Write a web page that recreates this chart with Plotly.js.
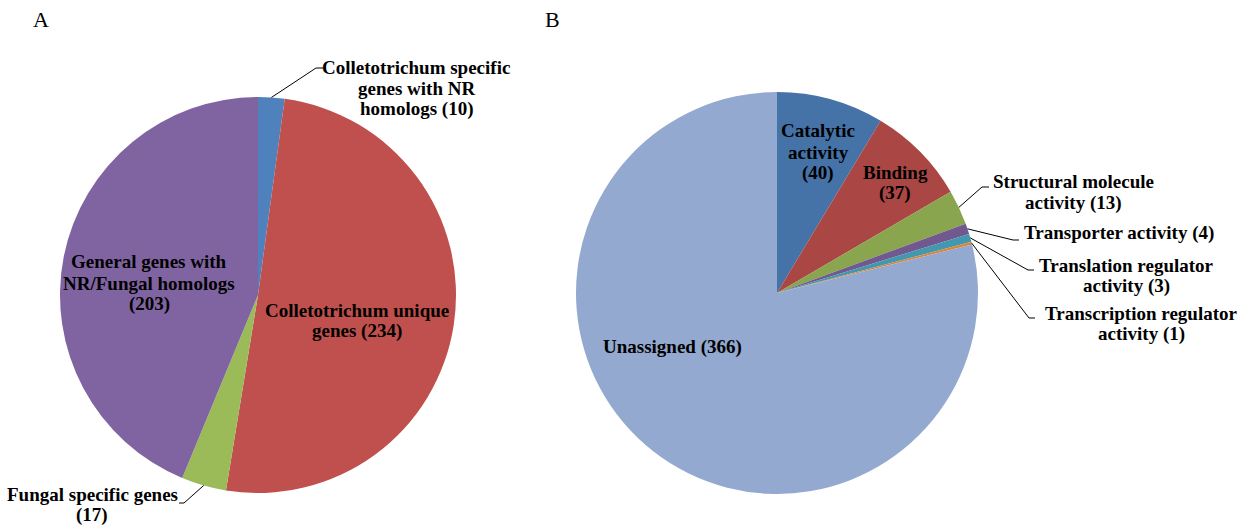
<!DOCTYPE html>
<html>
<head>
<meta charset="utf-8">
<script src="https://cdn.plot.ly/plotly-3.0.1.min.js"></script>
<style>html,body{margin:0;padding:0;background:#fff;}#chart{width:1252px;height:526px;}</style>
</head>
<body>
<div id="chart"></div>
<script>
// ---- Data ----
const labelsA = ["Colletotrichum specific genes with NR homologs", "Colletotrichum unique genes", "Fungal specific genes", "General genes with NR/Fungal homologs"];
const valuesA = [10, 234, 17, 203];
const colorsA = ["#4F81BD", "#C0504D", "#9BBB59", "#8064A2"];
const textA = [["Colletotrichum specific", "genes with NR", "homologs (10)"], ["Colletotrichum unique", "genes (234)"], ["Fungal specific genes", "(17)"], ["General genes with", "NR/Fungal homologs", "(203)"]];

const labelsB = ["Catalytic activity", "Binding", "Structural molecule activity", "Transporter activity", "Translation regulator activity", "Transcription regulator activity", "Unassigned"];
const valuesB = [40, 37, 13, 4, 3, 1, 366];
const colorsB = ["#4572A7", "#AA4643", "#89A54E", "#71588F", "#4198AF", "#DB843D", "#93A9CF"];
const textB = [["Catalytic", "activity", "(40)"], ["Binding", "(37)"], ["Structural molecule", "activity (13)"], ["Transporter activity (4)"], ["Translation regulator", "activity (3)"], ["Transcription regulator", "activity (1)"], ["Unassigned (366)"]];

// ---- Layout geometry (pixels) ----
const W = 1252, H = 526;
const pieA = {cx: 258, cy: 295, r: 198};
const pieB = {cx: 777, cy: 293, r: 201};
const px = x => x / W;
const py = y => 1 - y / H;
const LINE = 21;

function domainOf(p) {
  return {x: [px(p.cx - p.r), px(p.cx + p.r)], y: [py(p.cy + p.r), py(p.cy - p.r)]};
}
function edgePoint(p, values, i) {
  const tot = values.reduce((a, b) => a + b, 0);
  let before = 0; for (let k = 0; k < i; k++) before += values[k];
  const ang = (before + values[i] / 2) / tot * 2 * Math.PI;
  return [p.cx + p.r * Math.sin(ang), p.cy - p.r * Math.cos(ang)];
}

// label placements: x center, y of first line
const labPosA = [
  {i: 0, x: 416, y: 67, elbow: [316, 68], end: [323, 68]},
  {i: 1, x: 357, y: 310},
  {i: 2, x: 92, y: 494, elbow: [184, 503], end: [179, 503]},
  {i: 3, x: 149, y: 262}
];
const labPosB = [
  {i: 0, x: 818, y: 131},
  {i: 1, x: 895, y: 172},
  {i: 2, x: 1073, y: 182, elbow: [982, 187], end: [989, 187]},
  {i: 3, x: 1119, y: 233, elbow: [1013, 240], end: [1019, 240]},
  {i: 4, x: 1126, y: 265, elbow: [1028, 270], end: [1034, 270]},
  {i: 5, x: 1141, y: 313, elbow: [1029, 318], end: [1035, 318]},
  {i: 6, x: 672, y: 347}
];

const font = {family: "Liberation Serif, Times New Roman, serif", size: 19, color: "#000"};
const annotations = [];
const shapes = [];
function addLabels(p, values, texts, pos) {
  pos.forEach(o => {
    texts[o.i].forEach((line, k) => {
      annotations.push({xref: "paper", yref: "paper", x: px(o.x), y: py(o.y + k * LINE), xanchor: "center", yanchor: "middle",
        text: "<b>" + line + "</b>", showarrow: false, align: "center", font: font});
    });
    if (o.elbow) {
      const e = edgePoint(p, values, o.i);
      shapes.push({type: "line", xref: "paper", yref: "paper", x0: px(e[0]), y0: py(e[1]), x1: px(o.elbow[0]), y1: py(o.elbow[1]), line: {color: "#000", width: 1}});
      shapes.push({type: "line", xref: "paper", yref: "paper", x0: px(o.elbow[0]), y0: py(o.elbow[1]), x1: px(o.end[0]), y1: py(o.end[1]), line: {color: "#000", width: 1}});
    }
  });
}
addLabels(pieA, valuesA, textA, labPosA);
addLabels(pieB, valuesB, textB, labPosB);

annotations.push({xref: "paper", yref: "paper", x: px(41), y: py(20), xanchor: "center", yanchor: "middle", text: "A", showarrow: false, font: {family: "Liberation Serif, serif", size: 22, color: "#000"}});
annotations.push({xref: "paper", yref: "paper", x: px(552), y: py(20), xanchor: "center", yanchor: "middle", text: "B", showarrow: false, font: {family: "Liberation Serif, serif", size: 22, color: "#000"}});

const traces = [
  {type: "pie", labels: labelsA, values: valuesA, marker: {colors: colorsA, line: {width: 0}}, sort: false, direction: "clockwise", rotation: 0, textinfo: "none", domain: domainOf(pieA), hoverinfo: "label+value"},
  {type: "pie", labels: labelsB, values: valuesB, marker: {colors: colorsB, line: {width: 0}}, sort: false, direction: "clockwise", rotation: 0, textinfo: "none", domain: domainOf(pieB), hoverinfo: "label+value"}
];

const layout = {width: W, height: H, margin: {l: 0, r: 0, t: 0, b: 0}, showlegend: false, paper_bgcolor: "#fff", annotations: annotations, shapes: shapes};
Plotly.newPlot("chart", traces, layout, {displayModeBar: false, staticPlot: true});
</script>
</body>
</html>
